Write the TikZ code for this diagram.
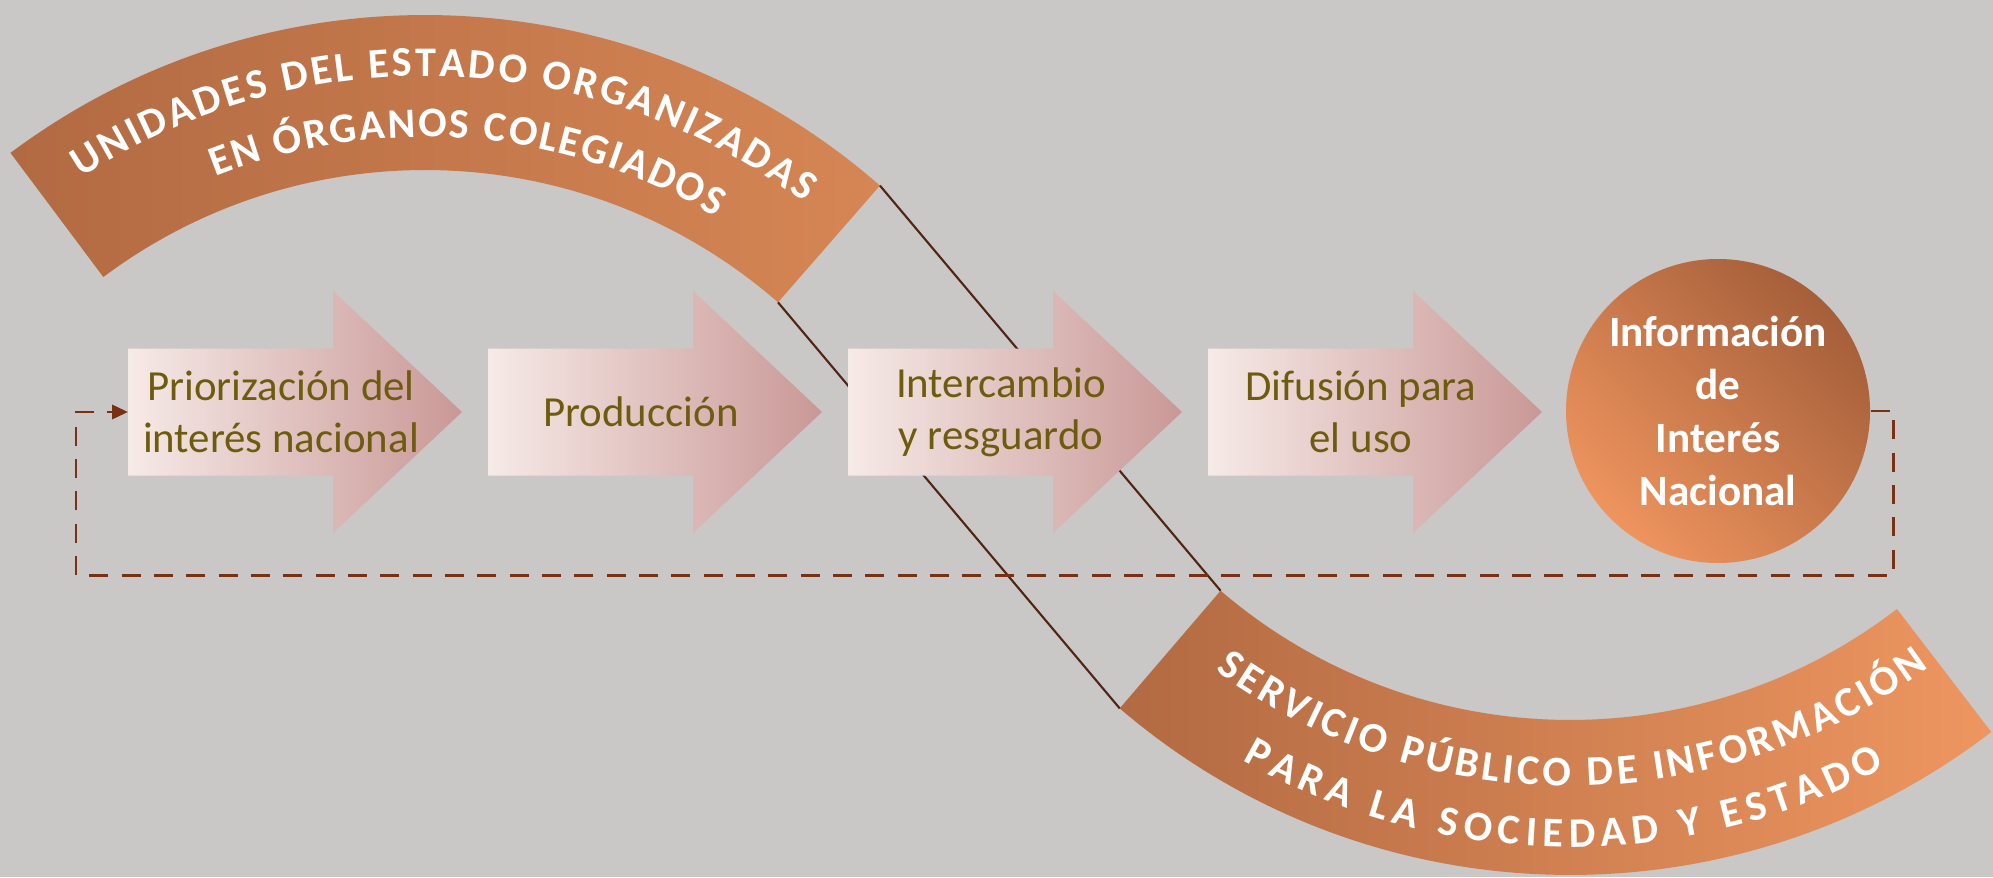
\documentclass[tikz,border=0pt]{standalone}
\usepackage{fontspec}
\setmainfont{Carlito}
\usetikzlibrary{arrows.meta}
\usetikzlibrary{calc}
\usetikzlibrary{decorations.text}

\definecolor{bgray}{RGB}{202,199,199}
\definecolor{stepink}{RGB}{110,92,14}
\definecolor{bandl}{RGB}{178,106,66}
\definecolor{bandr}{RGB}{214,134,84}
\definecolor{bandrr}{RGB}{238,150,96}
\definecolor{arrl}{RGB}{246,234,231}
\definecolor{arrr}{RGB}{201,152,150}
\definecolor{infodark}{RGB}{165,95,58}
\definecolor{infolight}{RGB}{238,148,94}
\definecolor{linkcol}{RGB}{80,38,18}
\definecolor{loopcol}{RGB}{122,48,20}
\newcommand{\bandfont}{\bfseries\fontsize{12}{14}\selectfont}

\begin{document}
\begin{tikzpicture}[step shape/.style={left color=arrl,right color=arrr},
    step text/.style={align=center,text=stepink,font=\fontsize{12.2}{14.8}\selectfont},
    info node/.style={circle,minimum size=3.04cm,inner sep=0pt,top color=infodark,
        bottom color=infolight,shading angle=-45,text=white,align=center,
        font=\bfseries\fontsize{12.3}{15}\selectfont},
    link line/.style={draw=linkcol,line width=0.6pt},
    loop line/.style={draw=loopcol,line width=0.85pt,dash pattern=on 5.4pt off 3.8pt,
        -{Triangle[length=4.5pt,width=4pt]}},
    band text/.style={decorate,decoration={text along path,text align=fit to path,
        text color=white,text={|\bandfont|#1}}}]

    \clip (0,0) rectangle (19.93,8.77);
    \fill[bgray] (0,0) rectangle (19.93,8.77);

    % the two bands
    \coordinate (tc) at (4.25,1.70);
    \coordinate (bc) at (15.70,6.94);
    \coordinate (tinr) at ($(tc)+(48.9:5.37)$);
    \coordinate (toutr) at ($(tc)+(48.9:6.92)$);
    \coordinate (binl) at ($(bc)+(-130.6:5.37)$);
    \coordinate (boutl) at ($(bc)+(-130.6:6.92)$);
    \coordinate (binr) at ($(bc)+(-52.5:5.37)$);

    \shade[left color=bandl,right color=bandr] ($(tc)+(126.8:6.92)$)
        arc[start angle=126.8,end angle=48.9,radius=6.92] -- (tinr)
        arc[start angle=48.9,end angle=126.8,radius=5.37] -- cycle;
    \shade[left color=bandl,right color=bandrr] (boutl)
        arc[start angle=-130.6,end angle=-52.5,radius=6.92] -- (binr)
        arc[start angle=-52.5,end angle=-130.6,radius=5.37] -- cycle;

    \path[band text={UNIDADES DEL ESTADO ORGANIZADAS}] ($(tc)+(123:6.31)$)
        arc[start angle=123,end angle=53.1,radius=6.31];
    \path[band text={EN ÓRGANOS COLEGIADOS}] ($(tc)+(111.6:5.70)$)
        arc[start angle=111.6,end angle=59.3,radius=5.70];
    \path[band text={SERVICIO PÚBLICO DE INFORMACIÓN}] ($(bc)+(-126:6.03)$)
        arc[start angle=-126,end angle=-53.5,radius=6.03];
    \path[band text={PARA LA SOCIEDAD Y ESTADO}] ($(bc)+(-119.6:6.64)$)
        arc[start angle=-119.6,end angle=-61.7,radius=6.64];

    \draw[link line] (tinr) -- (boutl);
    \draw[link line] (toutr) -- (binl);

    % the four steps
    \foreach \txt [count=\i from 0] in {{Priorización del\\interés nacional},Producción,
            {Intercambio\\y resguardo},{Difusión para\\el uso}} {
        \coordinate (a\i) at (1.28+3.6*\i,4.65);
        \shade[step shape] (a\i) ++(0,0.635) -- ++(2.05,0) -- ++(0,0.575) -- ++(1.29,-1.21)
            -- ++(-1.29,-1.21) -- ++(0,0.575) -- ++(-2.05,0) -- cycle;
        \node[step text] (s\i) at ([xshift=1.53cm]a\i) {\txt};
    }

    \node[info node] (info) at (17.18,4.66) {Información\\de\\Interés\\Nacional};

    \coordinate (fbl) at (0.76,3.02);
    \draw[loop line] (info.east) -- ++(0.23,0) |- (fbl) |- (a0);
\end{tikzpicture}
\end{document}
